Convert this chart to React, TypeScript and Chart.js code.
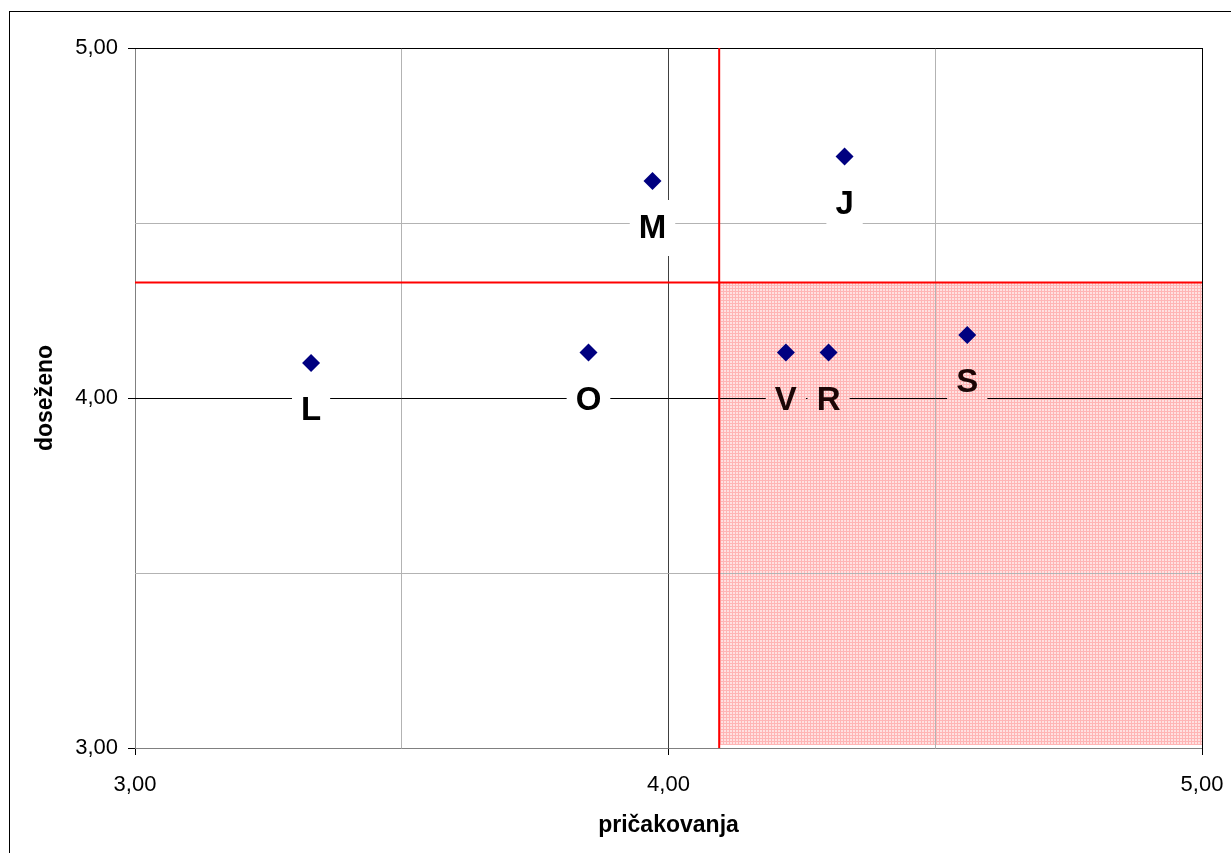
import React, { useEffect, useRef } from "react";
import { Chart, registerables } from "chart.js";

Chart.register(...registerables);

// ---- data ----
const pointLabels = ["L", "O", "M", "J", "V", "R", "S"];
const expectations = [3.33, 3.85, 3.97, 4.33, 4.22, 4.3, 4.56]; // x: pričakovanja
const achieved = [4.1, 4.13, 4.62, 4.69, 4.13, 4.13, 4.18]; // y: doseženo
const thresholdX = 4.095;
const thresholdY = 4.33;
const axisMin = 3;
const axisMax = 5;
const axisStep = 0.5;
const xTitle = "pričakovanja";
const yTitle = "doseženo";

const FONT = "'Liberation Sans', Arial, sans-serif";

const fmt = (v: number) => (Number.isInteger(v) ? v.toFixed(2).replace(".", ",") : "");

function makePattern(ctx: CanvasRenderingContext2D): CanvasPattern | string {
  const c = document.createElement("canvas");
  c.width = 3;
  c.height = 3;
  const p = c.getContext("2d");
  if (!p) return "rgba(255,0,0,0.18)";
  p.fillStyle = "rgba(255,120,120,0.55)";
  p.fillRect(0, 0, 3, 3);
  p.clearRect(1, 1, 2, 2);
  p.fillStyle = "rgba(255,195,195,0.5)";
  p.fillRect(1, 1, 2, 2);
  return ctx.createPattern(c, "repeat") || "rgba(255,0,0,0.18)";
}

function shadeRect(chart: any) {
  const { chartArea, scales } = chart;
  const x0 = scales.x.getPixelForValue(thresholdX);
  const y0 = scales.y.getPixelForValue(thresholdY);
  return { x: x0, y: y0, w: chartArea.right - x0, h: chartArea.bottom - 3 - y0 };
}

const overlayPlugin = {
  id: "overlay",
  beforeDraw(chart: any) {
    const { ctx } = chart;
    const r = shadeRect(chart);
    ctx.save();
    ctx.fillStyle = makePattern(ctx);
    ctx.fillRect(r.x, r.y, r.w, r.h);
    ctx.restore();
  },
  beforeDatasetsDraw(chart: any) {
    const { ctx, scales } = chart;
    const xs = scales.x;
    const ys = scales.y;
    const r = shadeRect(chart);
    const pattern = makePattern(ctx);
    ctx.save();
    ctx.font = `bold 33px ${FONT}`;
    ctx.textAlign = "center";
    ctx.textBaseline = "middle";
    pointLabels.forEach((lab, i) => {
      const px = xs.getPixelForValue(expectations[i]);
      const py = ys.getPixelForValue(achieved[i]);
      const cy = py + 47;
      const w = ctx.measureText(lab).width + 18;
      const h = 56;
      ctx.fillStyle = "#ffffff";
      ctx.fillRect(px - w / 2, cy - h / 2, w, h);
      ctx.save();
      ctx.beginPath();
      ctx.rect(r.x, r.y, r.w, r.h);
      ctx.clip();
      ctx.fillStyle = pattern;
      ctx.fillRect(px - w / 2, cy - h / 2, w, h);
      ctx.restore();
      const inside = px > r.x && cy > r.y;
      ctx.fillStyle = inside ? "#1c0606" : "#000000";
      ctx.fillText(lab, px, cy + 1);
    });
    ctx.restore();
  },
  afterDraw(chart: any) {
    const { ctx } = chart;
    ctx.save();
    ctx.strokeStyle = "#000";
    ctx.lineWidth = 1;
    ctx.strokeRect(9.5, 11.5, 1300, 900);
    ctx.restore();
  },
};

export default function App() {
  const ref = useRef<HTMLCanvasElement | null>(null);
  useEffect(() => {
    if (!ref.current) return;
    const gridColorX = (c: any) => {
      const v = c.tick?.value;
      if (v === 3) return "#808080";
      if (v === 4) return "#404040";
      if (v === 5) return "#000000";
      return "#b3b3b3";
    };
    const gridColorY = (c: any) => {
      const v = c.tick?.value;
      if (v === 3) return "#808080";
      if (v === 4) return "#000000";
      if (v === 5) return "#000000";
      return "#b3b3b3";
    };
    const tickColor = (c: any) => (Number.isInteger(c.tick?.value) ? "#000" : "rgba(0,0,0,0)");
    const chart = new Chart(ref.current, {
      type: "scatter",
      data: {
        datasets: [
          {
            label: "points",
            data: expectations.map((x, i) => ({ x, y: achieved[i] })),
            pointStyle: "rectRot",
            pointRadius: 9,
            pointBackgroundColor: "#000080",
            pointBorderColor: "#000080",
            pointBorderWidth: 0,
            showLine: false,
          },
          {
            label: "vline",
            data: [
              { x: thresholdX, y: axisMin },
              { x: thresholdX, y: axisMax },
            ],
            showLine: true,
            borderColor: "#ff0000",
            borderWidth: 2,
            pointRadius: 0,
          },
          {
            label: "hline",
            data: [
              { x: axisMin, y: thresholdY },
              { x: axisMax, y: thresholdY },
            ],
            showLine: true,
            borderColor: "#ff0000",
            borderWidth: 2,
            pointRadius: 0,
          },
        ],
      },
      options: {
        animation: false,
        responsive: true,
        maintainAspectRatio: false,
        layout: { padding: { top: 48, right: 29, left: 0, bottom: 0 } },
        plugins: { legend: { display: false }, tooltip: { enabled: false } },
        scales: {
          x: {
            type: "linear",
            min: axisMin,
            max: axisMax,
            afterFit: (s: any) => {
              s.height = 105;
              s.paddingLeft = 0;
              s.paddingRight = 0;
            },
            border: { display: false },
            grid: { color: gridColorX, tickColor, tickLength: 7, drawTicks: true, lineWidth: 1 },
            ticks: {
              stepSize: axisStep,
              autoSkip: false,
              maxRotation: 0,
              padding: 17,
              color: "#000",
              font: { family: FONT, size: 22 },
              callback: (v: any) => fmt(Number(v)),
            },
            title: {
              display: true,
              text: xTitle,
              color: "#000",
              font: { family: FONT, size: 23, weight: "bold" },
              padding: { top: 0, bottom: 14 },
            },
          },
          y: {
            type: "linear",
            min: axisMin,
            max: axisMax,
            afterFit: (s: any) => {
              s.width = 135;
              s.paddingTop = 0;
              s.paddingBottom = 0;
            },
            border: { display: false },
            grid: { color: gridColorY, tickColor, tickLength: 7, drawTicks: true, lineWidth: 1 },
            ticks: {
              stepSize: axisStep,
              autoSkip: false,
              padding: 10,
              color: "#000",
              font: { family: FONT, size: 22 },
              callback: (v: any) => fmt(Number(v)),
            },
            title: {
              display: true,
              text: yTitle,
              color: "#000",
              font: { family: FONT, size: 23, weight: "bold" },
              padding: { top: 32, bottom: 0 },
            },
          },
        },
      },
      plugins: [overlayPlugin],
    } as any);
    return () => chart.destroy();
  }, []);
  return (
    <div style={{ position: "fixed", left: 0, top: 0, width: 1231, height: 853, background: "#fff" }}>
      <canvas ref={ref} />
    </div>
  );
}
